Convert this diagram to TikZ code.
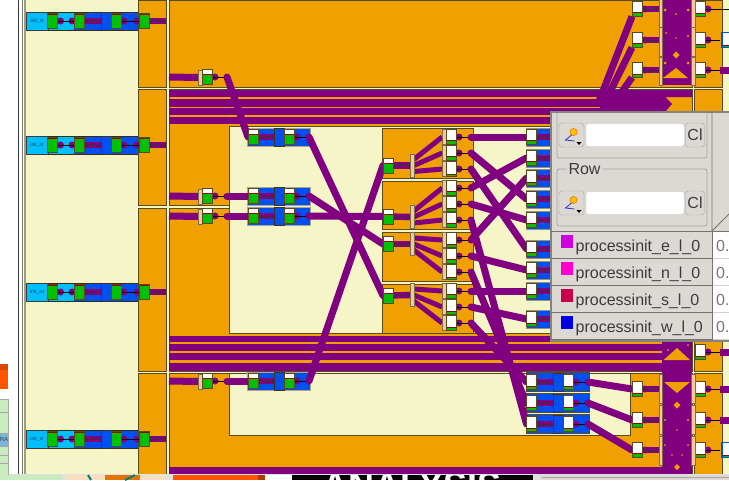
\documentclass[tikz,border=0pt]{standalone}
\usepackage{fontspec}
\setmainfont{Liberation Sans}
\usetikzlibrary{calc,backgrounds}
\definecolor{creamcol}{HTML}{F5F5C8}
\definecolor{orangecol}{HTML}{F0A000}
\definecolor{wirecol}{HTML}{800080}
\definecolor{bluecol}{HTML}{0050F0}
\definecolor{skycol}{HTML}{00BFFF}
\definecolor{greencol}{HTML}{00C000}
\definecolor{tancol}{HTML}{F5C896}
\definecolor{edgecol}{HTML}{5A4A20}
\definecolor{panelcol}{HTML}{DCD9D5}
\definecolor{framecol}{HTML}{A8A49E}
\definecolor{inkcol}{HTML}{3C3C3C}
\definecolor{alertcol}{HTML}{FF5500}
\definecolor{paleblue}{HTML}{78B8E0}
\definecolor{palegreen}{HTML}{C8ECC0}
\begin{document}
\begin{tikzpicture}[x=1pt,y=-1pt,
    portbox/.style={draw=edgecol,fill=white,line width=.8pt,minimum width=10pt,minimum height=15pt,
        inner sep=0pt,outer sep=0pt,path picture={
        \fill[greencol] (path picture bounding box.south west) rectangle ($(path picture bounding box.south east)+(0,-#1)$);
        \draw[red!60!black,line width=.5pt] ($(path picture bounding box.south west)+(0,-#1)$) -- ($(path picture bounding box.south east)+(0,-#1)$);}},
    tanbar/.style={draw=edgecol!80,fill=tancol,line width=.4pt,minimum width=3.6pt,inner sep=0pt,outer sep=0pt},
    midbox/.style={draw=edgecol!70!black,fill=bluecol,line width=.7pt,minimum width=10pt,minimum height=18pt,inner sep=0pt,outer sep=0pt},
    wire/.style={wirecol,line width=7pt,line cap=round},
    fanwire/.style={wirecol,line width=5pt},
    core/.style={wirecol,double=black!80,double distance=.8pt,line width=2.8pt},
    stub/.style={black,line width=.7pt},
    tabletext/.style={text=inkcol,font=\fontsize{16}{16}\selectfont,inner sep=0pt}]
\useasboundingbox (0,0) rectangle (729,480);
\begin{scope}[on background layer]
    % page and the big regions
    \fill[white] (0,0) rectangle (729,480);
    \draw[inkcol,line width=.8pt] (18.5,0) -- (18.5,474);
    \draw[inkcol!70,line width=.8pt] (22,0) -- (22,474);
    \fill[framecol!80!olive] (24,0) rectangle (26,474);
    \fill[creamcol] (26,0) rectangle (729,474);
    \foreach \ya/\yb in {0/87.5,89.5/205,208/371,373/474} {
        \fill[orangecol,draw=edgecol,line width=.5pt] (138,\ya) rectangle (166,\yb);
    }
    \fill[orangecol,draw=edgecol,line width=.5pt] (169,0) rectangle (692,87);
    \fill[orangecol,draw=edgecol,line width=.5pt] (169,89.5) rectangle (692,205);
    \fill[orangecol,draw=edgecol,line width=.5pt] (169,208) rectangle (692,371);
    \fill[orangecol,draw=edgecol,line width=.5pt] (169,373) rectangle (692,474);
    \fill[orangecol,draw=edgecol,line width=.5pt] (694,0) rectangle (722,87);
    \fill[orangecol,draw=edgecol,line width=.5pt] (694,89.5) rectangle (722,371);
    \fill[orangecol,draw=edgecol,line width=.5pt] (694,373) rectangle (722,474);
    \fill[creamcol,draw=edgecol,line width=.6pt] (229,126) rectangle (692,333);
    \fill[creamcol,draw=edgecol,line width=.6pt] (229,373) rectangle (630,435);
    % bus bands
    \foreach \ya/\yb in {90/97,99/107,108/115,117/124,336/342,344/351,353/360} {
        \fill[wirecol] (169,\ya) rectangle (665,\yb);
    }
    \fill[wirecol] (169,362.5) rectangle (692,371);
    \fill[wirecol] (600,90) -- (692,90) -- (692,97) -- (665,97) -- (672,104) -- (665,112) -- (600,124) -- cycle;
    \fill[wirecol] (169,467) rectangle (692,474);
    % purple crossbar columns
    \fill[wirecol] (662,0) rectangle (692,85);
    \fill[wirecol] (662,341) rectangle (692,472);
    \fill[orangecol] (663,78) -- (676,68) -- (688,78) -- cycle;
    \fill[orangecol] (663.5,360) -- (677,348) -- (690,360) -- cycle;
    \fill[orangecol] (664,382) -- (690,382) -- (677,393) -- cycle;
    \foreach \x/\y/\r in {676/55/3.5,677/405/3.5,677/467/3,665/10/1.5,688/10/1.5,676/14/1,666/33/1,688/36/1.2,
        665/63/1.5,688/63/1.5,676/38/.8,668/350/1,688/345/1,665/420/1.2,688/420/1.2,677/430/.8,
        665/445/1,688/445/1,672/455/.8,682/455/.8} {
        \fill[orangecol] (\x-\r,\y) -- (\x,\y-\r) -- (\x+\r,\y) -- (\x,\y+\r) -- cycle;
    }
    % init rows on the left
    \foreach \y in {21,145,292,439} {
        \fill[skycol] (26,\y-9) rectangle (74,\y+9);
        \fill[bluecol] (74,\y-9) rectangle (138,\y+9);
        \draw[inkcol,line width=.9pt] (26.5,\y-9) rectangle (48,\y+9);
        \draw[edgecol!60!black,line width=.7pt] (48,\y-9) -- (138,\y-9) (48,\y+9) -- (138,\y+9);
    }
    % inner blue blocks
    \foreach \y in {137,196,216,381} {
        \fill[bluecol,draw=edgecol!50,line width=.5pt] (247,\y-9) rectangle (310,\y+9);
    }
    \foreach \y in {382,403,424} {
        \fill[bluecol,draw=edgecol,line width=.5pt] (526,\y-9.5) rectangle (589,\y+9.5);
    }
    \foreach \y in {137,158,178,199,220,249,270,291,319} {
        \fill[bluecol,draw=edgecol!60,line width=.5pt] (526,\y-9) rectangle (560,\y+9);
    }
    % split blocks in the middle
    \foreach \ya/\yb in {128/178,181/229,232/281,284/333} {
        \fill[orangecol,draw=edgecol,line width=.7pt] (382.5,\ya) rectangle (473,\yb);
    }
\end{scope}
% init rows
\foreach \y/\lab/\nm in {21/init\_sl/s,145/init\_nl/n,292/init\_wl/w,439/init\_el/e} {
    \node[text=black!65!skycol,font=\fontsize{5}{5}\selectfont,inner sep=0pt] (lab\nm) at (37,\y) {\lab};
    \node[portbox=14] (\nm a) at (52.5,\y) {};
    \node[portbox=14] (\nm b) at (79,\y) {};
    \node[midbox] (\nm c) at (106,\y) {};
    \node[portbox=14] (\nm d) at (116,\y) {};
    \node[portbox=14] (\nm e) at (144,\y) {};
    \coordinate (\nm f) at (166,\y);
}
% tap ports on the bus
\foreach \y/\nm in {77/ta,196/tb,216/tc,381/td} {
    \node[tanbar,minimum height=15pt] (\nm v) at (200,\y+.5) {};
    \node[portbox=10] (\nm) at (207,\y) {};
    \coordinate (\nm i) at (169,\y);
}
% inner blue blocks
\foreach \y/\nm in {137/ba,196/bb,216/bc,381/bd} {
    \node[portbox=10] (\nm a) at (253,\y) {};
    \node[midbox] (\nm m) at (279,\y) {};
    \node[portbox=10] (\nm b) at (289,\y) {};
}
\foreach \y/\nm in {382/qa,403/qb,424/qc} {
    \node[portbox=3] (\nm a) at (531.5,\y) {};
    \node[midbox] (\nm m) at (558,\y) {};
    \node[portbox=3] (\nm b) at (568,\y) {};
}
% split blocks
\foreach \y/\by/\nm/\g in {165.5/165.5/la/10,216.5/217/lb/10,244/244/lc/10,295.5/295/ld/10} {
    \node[portbox=\g] (\nm) at (388,\y) {};
    \node[tanbar,minimum height=23pt] (\nm v) at (412,\by) {};
}
\foreach \y/\nm/\g in {137/ma/4,153/mb/4,169/mc/2,188/md/4,204/me/3,220/mf/4,240/mg/3,256/mh/4,272/mi/2,291/mj/4,307/mk/3,323/ml/3} {
    \node[tanbar,minimum height=15pt] (\nm v) at (444,\y) {};
    \node[portbox=\g] (\nm) at (451,\y) {};
}
% right side of the panel
\foreach \y/\nm/\g in {137/ra/4,158/rb/4,178/rc/3,199/rd/3,220/re/4,249/rf/4,270/rg/4,291/rh/4,319/ri/3} {
    \node[portbox=\g] (\nm) at (531.5,\y) {};
    \coordinate (\nm e) at (552,\y);
}
% output columns
\foreach \y/\nm/\g in {9/ua/4,40/ub/4,70/uc/3,389/oa/3,420/ob/4,450/oc/4} {
    \node[portbox=\g] (\nm) at (637,\y) {};
    \node[portbox=3] (\nm x) at (700,\y) {};
    \coordinate (\nm z) at (729,\y);
}
\node[portbox=3] (ozx) at (700,352) {};
\coordinate (ozz) at (729,352);
\foreach \ya/\yb/\nm in {13/29/cba,42/29/cbb,71/28/cbc,388.5/29/cbd,419.5/29/cbe,450.5/29/cbf} {
    \node[tanbar,minimum height=\yb*1pt] (\nm l) at (660.5,\ya) {};
    \node[tanbar,minimum height=\yb*1pt] (\nm r) at (693,\ya) {};
}
\node[portbox=2,draw=bluecol,line width=1.2pt] (redge) at (727,40) {};
\node[portbox=2,draw=bluecol,line width=1.2pt] (redgeb) at (727,450) {};
\begin{scope}[on background layer]
    % dots and thin ties behind the ports
    \foreach \n in {ta,tb,tc,td,bab,bbb,bcb,bdb,qab,qbb,qcb,ma,mb,mc,md,me,mf,mg,mh,mi,mj,mk,ml,ua,ub,uc,oa,ob,oc} {
        \fill[wirecol] ($(\n.east)+(3,0)$) ellipse (3.5 and 3.5);
    }
    \foreach \n in {ta,tb,tc,td,bab,bbb,bcb,bdb,qab,qbb,qcb,ma,mb,mc,md,me,mf,mg,mh,mi,mj,mk,ml} {
        \draw[stub] (\n.east) -- ++(15,0) coordinate (\n o);
    }
    \foreach \n in {uax,ubx,ucx,ozx,oax,obx,ocx} {
        \fill[wirecol] ($(\n.east)+(3,0)$) ellipse (3.5 and 3.5);
        \draw[stub] (\n.east) -- ++(15,0) coordinate (\n o);
    }
    % init rows
    \foreach \nm in {s,n,w,e} {
        \fill[wirecol] ($(\nm a.east)+(3,0)$) ellipse (3.5 and 3.5);
        \fill[wirecol] ($(\nm b.west)+(-2,0)$) ellipse (3.5 and 3.5);
        \draw[stub] (\nm a) -- (\nm b);
        \draw[core] (\nm b) -- (\nm c);
        \fill[wirecol] ($(\nm d.east)+(3,0)$) ellipse (3.5 and 3.5);
        \fill[wirecol] ($(\nm e.west)+(-2,0)$) ellipse (3.5 and 3.5);
        \draw[stub] (\nm d) -- (\nm e);
        \draw[core] (\nm e) -- (\nm f);
    }
    % bus taps into the tan bars
    \foreach \nm in {ta,tb,tc,td} {
        \draw[wirecol,line width=7pt] (\nm i) -- (\nm v.west);
    }
    % connectors between blocks
    \draw[wire] (tao) -- (baa.west);
    \draw[wire] (tbo) -- (bba.west);
    \draw[wire] (tco) -- (bca.west);
    \draw[wire] (tdo) -- (bda.west);
    \foreach \n in {ba,bb,bc,bd} {
        \draw[core] (\n a) -- (\n m);
    }
    \foreach \n in {qa,qb,qc} {
        \draw[core] (\n a) -- (\n m);
    }
    \draw[wire] (babo) -- (ld.west);
    \draw[wire] (bbbo) -- (lc.west);
    \draw[wire] (bcbo) -- (lb.west);
    \draw[wire] (bdbo) -- (la.west);
    \foreach \n/\a/\b/\c in {la/ma/mb/mc,lb/md/me/mf,lc/mg/mh/mi,ld/mj/mk/ml} {
        \draw[core] (\n) -- (\n v);
        \draw[fanwire] ($(\n v.east)+(0,-6)$) -- (\a v.west);
        \draw[fanwire] (\n v.east) -- (\b v.west);
        \draw[fanwire] ($(\n v.east)+(0,6)$) -- (\c v.west);
    }
    \foreach \a/\b in {mao/ra,mbo/rd,mco/rf,mdo/rb,meo/re,mfo/qca,mgo/rc,mho/rg,mio/qba,mjo/rh,mko/ri,mlo/qaa} {
        \draw[wire] (\a) -- (\b.west);
    }
    \foreach \n in {ra,rb,rc,rd,re,rf,rg,rh,ri} {
        \draw[core] (\n) -- (\n e);
    }
    \draw[wire] (qabo) -- (oa.west);
    \draw[wire] (qbbo) -- (ob.west);
    \draw[wire] (qcbo) -- (oc.west);
    \foreach \n in {ua,ub,uc,oa,ob,oc} {
        \draw[core] (\n) -- (\n -| cbal.west);
    }
    % runs from the bands up to the top column
    \coordinate (upa) at (598,104);
    \coordinate (upb) at (606,100);
    \coordinate (upc) at (616,100);
    \draw[wire,line cap=butt] (upa) -- (ua.south west);
    \draw[wire,line cap=butt] (upb) -- (ub.south west);
    \draw[wire,line cap=butt] (upc) -- (uc.south west);
    % leaving on the far right
    \draw[wire,line cap=butt] (ucxo) -- (ucz);
    \draw[wire,line cap=butt] (ozxo) -- (ozz);
    \draw[wire,line cap=butt] (oaxo) -- (oaz);
    \draw[wire,line cap=butt] (obxo) -- (obz);
    \draw[stub] (uaxo) -- (uaz);
\end{scope}
% window strips at the edges
\fill[black!12!white] (0,474) rectangle (729,480);
\fill[palegreen,draw=framecol,line width=.5pt] (-1,399.5) rectangle (8,475);
\fill[alertcol!85!black] (0,364) rectangle (8,370);
\fill[alertcol] (0,370) rectangle (8,389);
\foreach \y in {412,455,463} {
    \draw[framecol,line width=.7pt] (0,\y) -- (8,\y);
}
\fill[paleblue,draw=framecol,line width=.5pt] (-1,433) rectangle (8,446);
\node[font=\fontsize{6}{6}\selectfont,text=inkcol,inner sep=0pt] (ralab) at (4,439.5) {RA};
\fill[palegreen] (0,475) rectangle (62,480);
\fill[tancol!60!white] (66,475) rectangle (105,480);
\fill[orange!90!black] (105,475) rectangle (140,480);
\draw[teal,line width=2pt] (88,475) -- (91,480) (125,480) -- (135,475);
\fill[tancol!60!white] (140,475) rectangle (165,480);
\fill[alertcol] (173,475) rectangle (258,480);
\fill[alertcol!70!black] (258,475) rectangle (265,480);
\fill[white] (265,475) rectangle (292,480);
\fill[black] (292,475) rectangle (533,480);
\begin{scope}
    \clip (292,475) rectangle (533,480);
    \node[text=white,font=\bfseries\fontsize{36}{36}\selectfont,inner sep=0pt,anchor=north] (bigtitle) at (412,472) {ANALYSIS};
\end{scope}
\fill[panelcol] (540,475) rectangle (729,480);
\draw[framecol,line width=.5pt] (542,477) -- (729,477);
% floating panel
\fill[panelcol,draw=framecol!80!black,line width=1.2pt] (551,112) rectangle (735,341);
\draw[framecol,rounded corners=2pt,line width=.8pt] (557,113) -- (557,158) -- (707,158) -- (707,113);
\draw[framecol,rounded corners=2pt,line width=.8pt] (557,169) rectangle (707,226);
\node[fill=panelcol,tabletext,inner xsep=2pt,inner ysep=1pt] (rowlab) at (584.5,169.5) {Row};
\foreach \y/\nm in {135/fa,203/fb} {
    \node[draw=framecol,fill=panelcol,rounded corners=3pt,minimum width=25pt,minimum height=24pt,inner sep=0pt] (\nm b) at (571.5,\y) {};
    \node[draw=framecol!70,fill=white,rounded corners=2pt,minimum width=98pt,minimum height=23pt,inner sep=0pt] (\nm t) at (635,\y) {};
    \node[draw=framecol,fill=panelcol,rounded corners=3pt,minimum width=19pt,minimum height=24pt,inner sep=0pt,text=inkcol,font=\fontsize{16}{16}\selectfont] (\nm c) at (695,\y) {Cl};
    \draw[orange,fill=yellow!60!orange,line width=.8pt] (\nm b.center)++(2,-3) circle (3.5);
    \draw[blue!50!gray,line width=.9pt] (\nm b.center)++(0,0) -- ++(-6,5) -- ++(9,1);
    \fill[black] (\nm b.center)++(5,7) -- ++(5,0) -- ++(-2.5,3) -- cycle;
}
\draw[framecol!70!black,line width=.8pt] (712,112) -- (712,231) (712,231) -- (729,214);
\draw[framecol!70!black,line width=.8pt] (551,231) -- (729,231);
\foreach \y/\lab/\col/\nm in {232/e/D000E0/cella,259/n/FF00CC/cellb,286/s/C8004C/cellc,313/w/0000E0/celld} {
    \fill[white] (712.5,\y) rectangle (729,\y+26);
    \definecolor{swatch}{HTML}{\col}
    \fill[swatch] (561,\y+3) rectangle (573,\y+16);
    \node[tabletext,anchor=base west] (\nm) at (575.5,\y+19) {processinit\_\lab\_l\_0};
    \node[tabletext,anchor=base west,text=inkcol!70] (\nm v) at (716,\y+19) {0.};
    \draw[framecol!70!black,line width=.8pt] (551,\y+26.5) -- (712,\y+26.5);
    \draw[framecol!50,line width=.5pt] (712,\y+26.5) -- (729,\y+26.5);
}
\draw[framecol!70!black,line width=.8pt] (712,231) -- (712,340);
\end{tikzpicture}
\end{document}
